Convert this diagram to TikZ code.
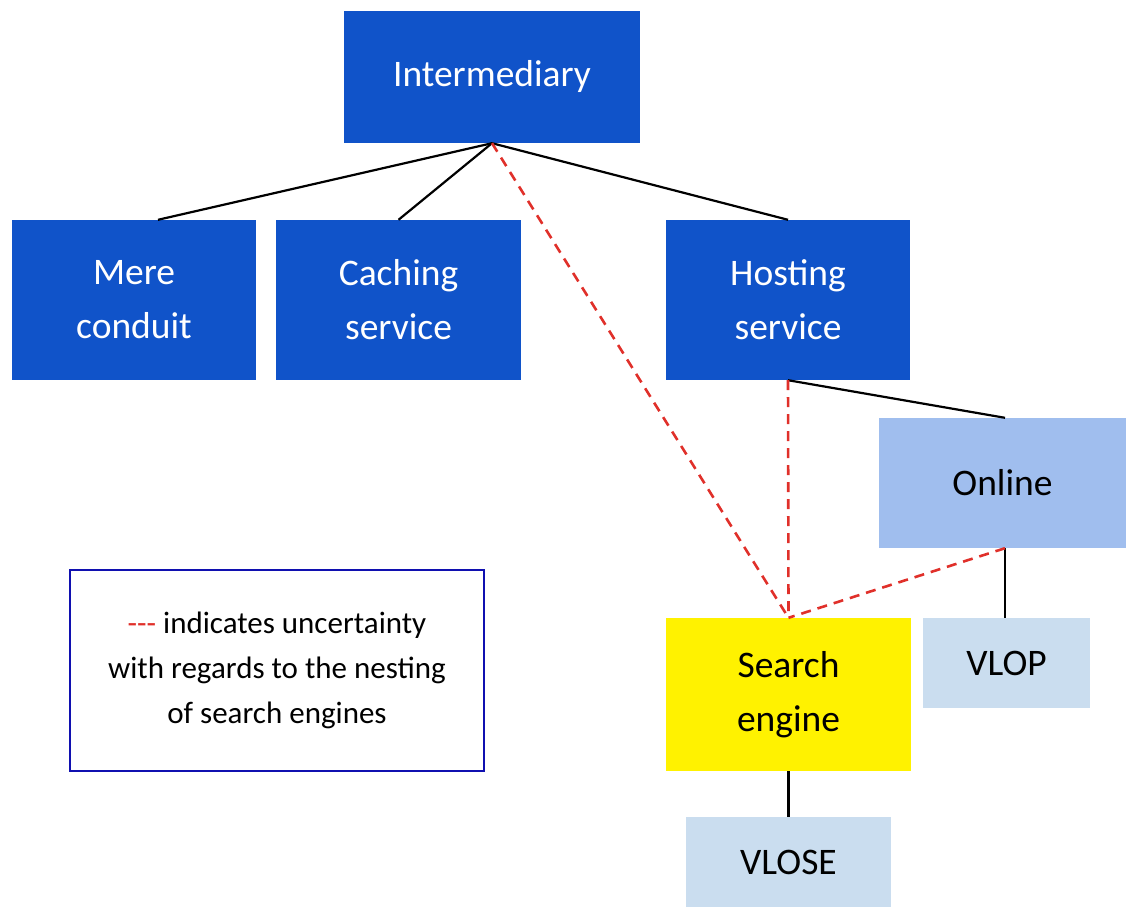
\documentclass[tikz,border=0pt]{standalone}
\usepackage{fontspec}
\setmainfont{Carlito}
\definecolor{darkblue}{HTML}{1053C9}
\definecolor{midblue}{HTML}{A0BEEE}
\definecolor{paleblue}{HTML}{CADDEF}
\definecolor{legendblue}{HTML}{1010B0}
\definecolor{dashred}{HTML}{E0302A}
\tikzset{
  box/.style={rectangle, inner sep=0pt, align=center, font=\fontsize{37.5}{54}\selectfont},
  mainbox/.style={box, fill=darkblue, text=white},
  onlinebox/.style={box, fill=midblue, text=black},
  vlbox/.style={box, fill=paleblue, text=black},
  searchbox/.style={box, fill=yellow, text=black},
  link/.style={draw=black, line width=2.2pt},
  unsure/.style={draw=dashred, line width=2.6pt, dash pattern=on 10pt off 7pt},
}
\begin{document}
\begin{tikzpicture}[x=1pt,y=-1pt]
\useasboundingbox (0,0) rectangle (1126,907);
\node[mainbox, minimum width=296pt, minimum height=132pt] (inter) at (492,77) {Intermediary};
\node[mainbox, minimum width=244pt, minimum height=160pt] (mere) at (134,300) {Mere\\conduit};
\node[mainbox, minimum width=245pt, minimum height=160pt] (cach) at (398.5,300) {Caching\\service};
\node[mainbox, minimum width=244pt, minimum height=160pt] (host) at (788,300) {Hosting\\service};
\node[onlinebox, minimum width=247pt, minimum height=130pt] (online) at (1002.5,483) {Online};
\node[vlbox, minimum width=167pt, minimum height=90pt] (vlop) at (1006.5,663) {VLOP};
\node[searchbox, minimum width=245pt, minimum height=153pt] (search) at (788.5,694.5) {Search\\engine};
\node[vlbox, minimum width=205pt, minimum height=90pt] (vlose) at (788.5,862) {VLOSE};
\node[draw=legendblue, line width=1.5pt, rectangle, minimum width=414pt, minimum height=201pt, inner sep=0pt,
      align=center, font=\fontsize{31}{45}\selectfont] (legend) at (277,670.5)
      {{\color{dashred}-{}-{}-} indicates uncertainty\\with regards to the nesting\\of search engines};
% connectors
\coordinate (mereTop) at ([xshift=24pt]mere.north);
\draw[link] (inter.south) -- (mereTop);
\draw[link] (inter.south) -- (cach.north);
\draw[link] (inter.south) -- (host.north);
\coordinate (onlineTop) at ([xshift=2.5pt]online.north);
\coordinate (onlineBot) at ([xshift=2.5pt]online.south);
\draw[link] (host.south) -- (onlineTop);
\draw[link] (onlineBot) -- (vlop.north -| onlineBot);
\draw[link] (search.south) -- (vlose.north);
\draw[unsure] (inter.south) -- (search.north);
\draw[unsure] (host.south) -- (search.north);
\draw[unsure] (onlineBot) -- (search.north);
\end{tikzpicture}
\end{document}
